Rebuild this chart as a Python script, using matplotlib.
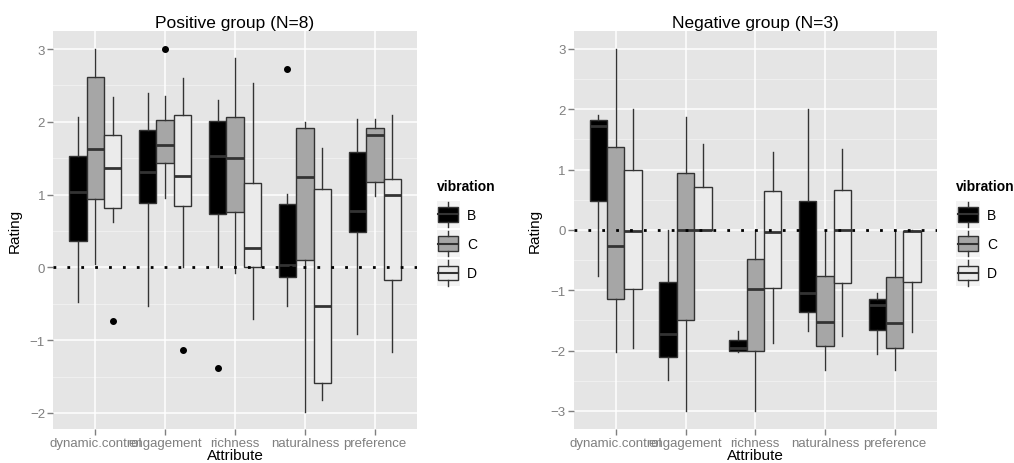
import matplotlib
matplotlib.use("Agg")
import matplotlib.pyplot as plt
from matplotlib.legend_handler import HandlerBase
from matplotlib.patches import Rectangle, Patch
from matplotlib.lines import Line2D

plt.rcParams['font.family'] = ['Liberation Sans', 'DejaVu Sans']

attributes = ['dynamic.control', 'engagement', 'richness', 'naturalness', 'preference']
vibrations = ['B', 'C', 'D']
fills = {'B': '#000000', 'C': '#A6A6A6', 'D': '#EBEBEB'}

# each entry: (whislo, q1, med, q3, whishi, fliers) per attribute, per vibration
pos_B = [(-0.47, 0.36, 1.03, 1.53, 2.06, []),
         (-0.53, 0.89, 1.31, 1.89, 2.39, []),
         (0.0, 0.74, 1.53, 2.01, 2.30, [-1.38]),
         (-0.53, -0.13, 0.03, 0.87, 1.01, [2.73]),
         (-0.92, 0.49, 0.78, 1.58, 2.04, [])]
pos_C = [(0.05, 0.94, 1.63, 2.62, 3.0, []),
         (0.95, 1.44, 1.68, 2.03, 2.36, [3.0]),
         (-0.07, 0.76, 1.51, 2.07, 2.88, []),
         (-1.98, 0.10, 1.24, 1.92, 2.0, []),
         (0.98, 1.17, 1.82, 1.92, 2.04, [])]
pos_D = [(0.62, 0.82, 1.36, 1.82, 2.34, [-0.74]),
         (0.0, 0.85, 1.25, 2.10, 2.60, [-1.14]),
         (-0.71, 0.0, 0.27, 1.16, 2.54, []),
         (-1.82, -1.59, -0.53, 1.08, 1.64, []),
         (-1.16, -0.17, 1.0, 1.22, 2.09, [])]

neg_B = [(-0.77, 0.48, 1.73, 1.83, 1.91, []),
         (-2.48, -2.11, -1.73, -0.87, 0.0, []),
         (-2.02, -2.01, -1.96, -1.82, -1.68, []),
         (-1.67, -1.36, -1.04, 0.48, 2.0, []),
         (-2.06, -1.66, -1.24, -1.15, -1.04, [])]
neg_C = [(-2.02, -1.15, -0.26, 1.37, 3.0, []),
         (-3.0, -1.50, 0.0, 0.94, 1.88, []),
         (-3.0, -2.0, -0.98, -0.48, 0.0, []),
         (-2.33, -1.93, -1.52, -0.76, 0.0, []),
         (-2.33, -1.95, -1.55, -0.78, 0.0, [])]
neg_D = [(-1.95, -0.98, -0.02, 0.99, 2.0, []),
         (0.0, 0.0, 0.0, 0.72, 1.43, []),
         (-1.88, -0.96, -0.04, 0.64, 1.30, []),
         (-1.76, -0.88, 0.0, 0.67, 1.34, []),
         (-1.70, -0.86, -0.01, -0.01, 0.0, [])]

panels = [('Positive group (N=8)', {'B': pos_B, 'C': pos_C, 'D': pos_D}, (-2.22, 3.25), [-2, -1, 0, 1, 2, 3]),
          ('Negative group (N=3)', {'B': neg_B, 'C': neg_C, 'D': neg_D}, (-3.3, 3.3), [-3, -2, -1, 0, 1, 2, 3])]

EDGE = '#333333'


class BoxHandler(HandlerBase):
    def create_artists(self, legend, orig_handle, xdescent, ydescent, width, height, fontsize, trans):
        fc = orig_handle.get_facecolor()
        bg = Rectangle((-xdescent, -ydescent - 4), width, height + 8, facecolor='#F2F2F2',
                       edgecolor='none', transform=trans)
        x0 = -xdescent + width * 0.08
        w = width * 0.84
        y0 = -ydescent + height * 0.05
        h = height * 0.9
        box = Rectangle((x0, y0), w, h, facecolor=fc, edgecolor=EDGE, lw=1, transform=trans)
        cx = x0 + w / 2
        wt = Line2D([cx, cx], [y0 + h, y0 + h + 4], color=EDGE, lw=1, transform=trans)
        wb = Line2D([cx, cx], [y0 - 4, y0], color=EDGE, lw=1, transform=trans)
        med = Line2D([x0, x0 + w], [y0 + h / 2] * 2, color=EDGE, lw=1.5, transform=trans)
        return [bg, box, wt, wb, med]


fig = plt.figure(figsize=(10.14, 4.64), dpi=100)
axes_rects = [[0.0526, 0.0733, 0.3584, 0.858], [0.566, 0.0733, 0.3577, 0.858]]

for rect, (title, data, ylim, yticks) in zip(axes_rects, panels):
    ax = fig.add_axes(rect)
    ax.set_facecolor('#E5E5E5')
    for y in [t + 0.5 for t in range(-4, 4)]:
        ax.axhline(y, color='#F2F2F2', lw=0.6, zorder=0)
    for y in yticks:
        ax.axhline(y, color='white', lw=1.1, zorder=0.5)
    for i in range(len(attributes)):
        ax.axvline(i + 1, color='white', lw=1.1, zorder=0.5)

    for j, v in enumerate(vibrations):
        stats = []
        for s in data[v]:
            stats.append({'whislo': s[0], 'q1': s[1], 'med': s[2], 'q3': s[3],
                          'whishi': s[4], 'fliers': s[5]})
        positions = [i + 1 + (j - 1) * 0.25 for i in range(len(attributes))]
        ax.bxp(stats, positions=positions, widths=0.25, patch_artist=True, showcaps=False,
               boxprops=dict(facecolor=fills[v], edgecolor=EDGE, lw=1),
               whiskerprops=dict(color=EDGE, lw=1),
               medianprops=dict(color=EDGE, lw=2),
               flierprops=dict(marker='o', markerfacecolor='black', markeredgecolor='black',
                               markersize=4),
               manage_ticks=False, zorder=2)

    ax.axhline(0, color='black', lw=2, linestyle=(0, (1, 4)), zorder=3)
    ax.set_xlim(0.4, 5.6)
    ax.set_ylim(*ylim)
    ax.set_xticks(range(1, len(attributes) + 1))
    ax.set_xticklabels(attributes)
    ax.set_yticks(yticks)
    ax.set_yticklabels([str(t).replace('-', '\u2212') for t in yticks])
    ax.tick_params(colors='#7F7F7F', labelsize=9.5, length=4, width=1, pad=2,
                   labelcolor='#7F7F7F')
    for sp in ax.spines.values():
        sp.set_visible(False)
    ax.set_title(title, fontsize=12.5, pad=3)
    ax.set_xlabel('Attribute', fontsize=11, labelpad=-1)
    ax.set_ylabel('Rating', fontsize=11, labelpad=6)

    handles = [Patch(facecolor=fills[v], label=v) for v in vibrations]
    leg = ax.legend(handles=handles, title='vibration', loc='center left',
                    bbox_to_anchor=(1.02, 0.5), frameon=False, fontsize=10,
                    title_fontproperties={'weight': 'bold', 'size': 10},
                    handler_map={Patch: BoxHandler()}, handlelength=1.7, handleheight=1.4,
                    labelspacing=0.95, handletextpad=0.5)
    leg._legend_box.align = 'left'

fig.savefig('out.png', dpi=100)
